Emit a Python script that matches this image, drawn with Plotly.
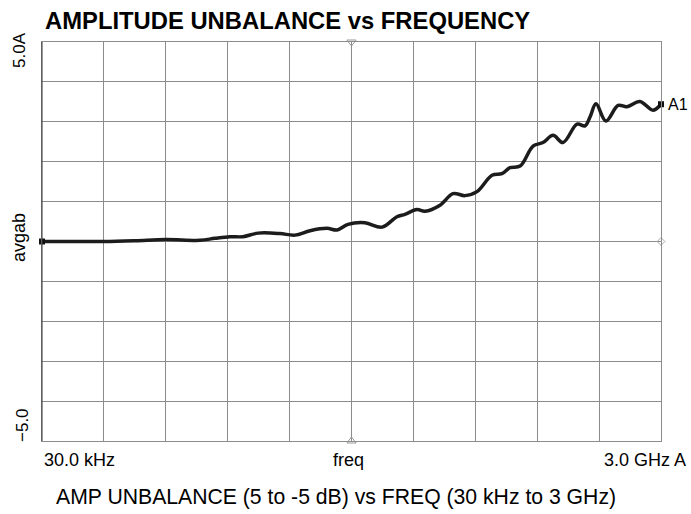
import plotly.graph_objects as go

# Data: frequency (MHz) and amplitude unbalance (dB)
freq_mhz = [0.03, 136, 300, 451, 601, 766, 838, 911, 974, 1047, 1153, 1226,
            1299, 1381, 1430, 1483, 1565, 1648, 1720, 1759, 1817, 1856, 1929,
            1992, 2050, 2108, 2181, 2229, 2268, 2317, 2380, 2428, 2477, 2525,
            2593, 2632, 2656, 2685, 2733, 2792, 2835, 2898, 2961, 3000]
avgab_db = [0.00, 0.00, 0.00, 0.02, 0.05, 0.03, 0.08, 0.12, 0.12, 0.21, 0.20, 0.16,
            0.27, 0.33, 0.29, 0.43, 0.47, 0.36, 0.62, 0.68, 0.80, 0.76, 0.91,
            1.20, 1.15, 1.25, 1.66, 1.70, 1.85, 1.89, 2.39, 2.48, 2.66, 2.48,
            2.94, 2.90, 3.12, 3.45, 3.02, 3.41, 3.38, 3.51, 3.29, 3.44]

x_start, x_stop = 0.03, 3000.0
y_min, y_max = -5.0, 5.0
n_div = 10

title_text = "AMPLITUDE UNBALANCE vs FREQUENCY"
footer_text = "AMP UNBALANCE (5 to -5 dB) vs FREQ (30 kHz to 3 GHz)"
x_left_label = "30.0 kHz"
x_mid_label = "freq"
x_right_label = "3.0 GHz A"
y_top_label = "5.0A"
y_mid_label = "avgab"
y_bot_label = "\u22125.0"
trace_label = "A1"

W, H = 691, 514
ML, MR, MT, MB = 42, 30, 42, 73
PW, PH = W - ML - MR, H - MT - MB

def px(xp, yp):
    return (xp - ML) / PW, (H - MB - yp) / PH

FONT = "Liberation Sans, Arial, sans-serif"

fig = go.Figure()

fig.add_trace(go.Scatter(
    x=freq_mhz, y=avgab_db, mode="lines",
    line=dict(color="#1c1c1c", width=3.5, shape="spline", smoothing=1.0),
    hoverinfo="skip", showlegend=False))

# start / end markers
fig.add_trace(go.Scatter(
    x=[freq_mhz[0], freq_mhz[-1]], y=[avgab_db[0], avgab_db[-1]], mode="markers",
    marker=dict(symbol="square", size=6, color="#111"),
    cliponaxis=False, showlegend=False, hoverinfo="skip"))

# center reference marks
x_mid = (x_start + x_stop) / 2
fig.add_trace(go.Scatter(
    x=[x_mid, x_mid], y=[y_max, y_min], mode="markers",
    marker=dict(symbol=["triangle-down-open", "triangle-up-open"], size=8,
                color="#999", line=dict(width=1)),
    cliponaxis=False, showlegend=False, hoverinfo="skip"))
fig.add_trace(go.Scatter(
    x=[x_stop], y=[(y_max + y_min) / 2], mode="markers",
    marker=dict(symbol="diamond-open", size=6, color="#aaa", line=dict(width=1)),
    cliponaxis=False, showlegend=False, hoverinfo="skip"))

fig.update_xaxes(range=[x_start, x_stop], tick0=x_start, dtick=(x_stop - x_start) / n_div,
                 showticklabels=False, showgrid=True, gridcolor="#8c8c8c", gridwidth=1,
                 zeroline=False, showline=True, linecolor="#8c8c8c", linewidth=1,
                 mirror=True, ticks="")
fig.update_yaxes(range=[y_min, y_max], tick0=y_min, dtick=(y_max - y_min) / n_div,
                 showticklabels=False, showgrid=True, gridcolor="#8c8c8c", gridwidth=1,
                 zeroline=False, showline=True, linecolor="#8c8c8c", linewidth=1,
                 mirror=True, ticks="")

# darker left border
fig.add_shape(type="line", xref="paper", yref="paper", x0=0, x1=0, y0=0, y1=1,
              line=dict(color="#333", width=1))

ann = []
def add_text(text, xp, yp, size, xanchor="center", bold=False, angle=0):
    x, y = px(xp, yp)
    ann.append(dict(text=("<b>%s</b>" % text) if bold else text, x=x, y=y,
                    xref="paper", yref="paper", xanchor=xanchor, yanchor="middle",
                    showarrow=False, textangle=angle,
                    font=dict(family=FONT, size=size, color="#000")))

add_text(title_text, 43, 20.5, 23.8, xanchor="left", bold=True)
add_text(y_top_label, 19, 50, 17, angle=-90)
add_text(y_mid_label, 19, 238, 18, angle=-90)
add_text(y_bot_label, 22, 425, 17, angle=-90)
add_text(x_left_label, 42, 460, 18, xanchor="left")
add_text(x_mid_label, 348, 460, 18)
add_text(x_right_label, 688, 460, 18, xanchor="right")
add_text(footer_text, 336, 497, 21.2)
add_text(trace_label, 666, 104, 16, xanchor="left")

fig.update_layout(width=W, height=H, margin=dict(l=ML, r=MR, t=MT, b=MB),
                  paper_bgcolor="white", plot_bgcolor="white", annotations=ann,
                  showlegend=False)

fig.write_html("out.html", config={"displayModeBar": False},
               post_script="document.body.style.margin='0';"
                           "document.body.style.overflow='hidden';")
